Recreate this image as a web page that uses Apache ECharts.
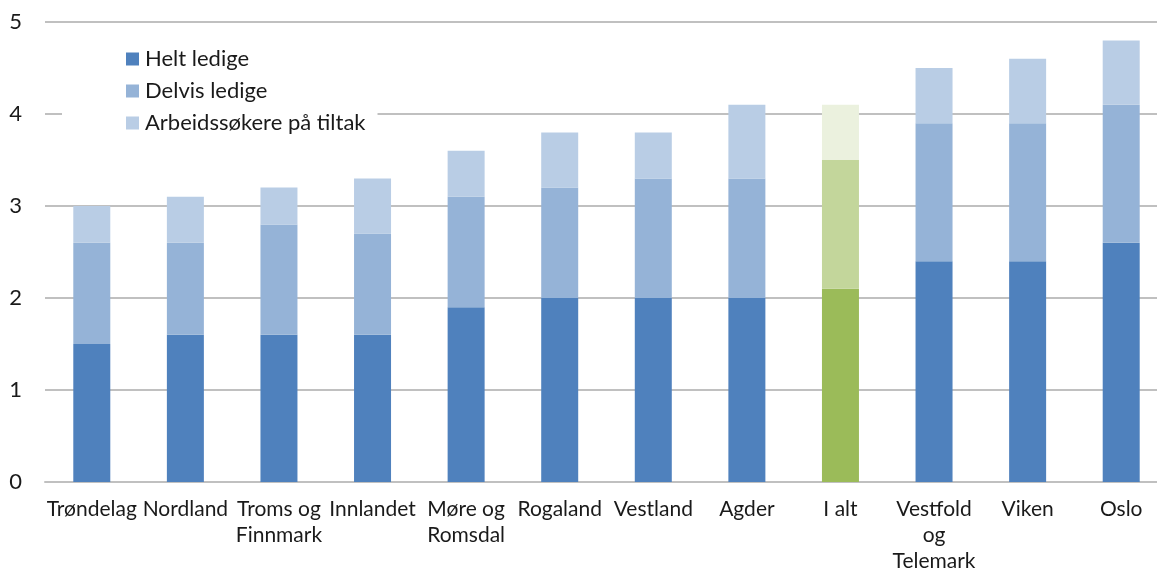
<!DOCTYPE html>
<html>
<head>
<meta charset="utf-8">
<script src="https://cdn.jsdelivr.net/npm/echarts@6/dist/echarts.min.js"></script>
<style>
html,body{margin:0;padding:0;background:#fff;}
#c{width:1157px;height:569px;}
</style>
</head>
<body>
<div id="c"></div>
<script>
const categories = ['Trøndelag','Nordland','Troms og\nFinnmark','Innlandet','Møre og\nRomsdal','Rogaland','Vestland','Agder','I alt','Vestfold\nog\nTelemark','Viken','Oslo'];
const heltLedige = [1.5,1.6,1.6,1.6,1.9,2.0,2.0,2.0,2.1,2.4,2.4,2.6];
const delvisLedige = [1.1,1.0,1.2,1.1,1.2,1.2,1.3,1.3,1.4,1.5,1.5,1.5];
const tiltak = [0.4,0.5,0.4,0.6,0.5,0.6,0.5,0.8,0.6,0.6,0.7,0.7];
const yTicks = [0,1,2,3,4,5];
const highlightCategory = 'I alt';

const FONT = 'Lato';
const blues = ['#4f81bd','#95b3d7','#b9cde5'];
const greens = ['#9bbb59','#c3d69b','#ebf1de'];
function mk(name, vals, i){
  return {
    name, type:'bar', stack:'s', barWidth:37,
    itemStyle:{color:blues[i]},
    data: vals.map((v,k)=> categories[k]===highlightCategory ? {value:v,itemStyle:{color:greens[i]}} : v)
  };
}
const chart = echarts.init(document.getElementById('c'),null,{renderer:'canvas'});
chart.setOption({
  animation:false,
  textStyle:{fontFamily:FONT},
  grid:{left:45,top:22,width:1123,bottom:87,containLabel:false,outerBoundsMode:'none'},
  legend:{
    orient:'vertical', left:62, top:44,
    padding:[4,12,4,64],
    backgroundColor:'#fff',
    itemWidth:13,itemHeight:13,itemGap:10,
    icon:'rect',
    textStyle:{fontSize:22,lineHeight:22,color:'#1a1a1a',fontFamily:FONT,padding:[0,0,0,1]},
    data:['Helt ledige','Delvis ledige','Arbeidssøkere på tiltak']
  },
  xAxis:{
    type:'category', data:categories,
    axisLine:{lineStyle:{color:'#c0c0c0',width:2}},
    axisTick:{show:false},
    axisLabel:{fontSize:21,color:'#1a1a1a',margin:14,lineHeight:26,interval:0,fontFamily:FONT}
  },
  yAxis:{
    type:'value', min:yTicks[0], max:yTicks[yTicks.length-1], interval:1,
    axisLine:{show:false}, axisTick:{show:false},
    splitLine:{lineStyle:{color:'#c0c0c0',width:2}},
    axisLabel:{fontSize:22,color:'#1a1a1a',margin:23,fontFamily:FONT}
  },
  series:[mk('Helt ledige',heltLedige,0),mk('Delvis ledige',delvisLedige,1),mk('Arbeidssøkere på tiltak',tiltak,2)]
});
</script>
</body>
</html>
